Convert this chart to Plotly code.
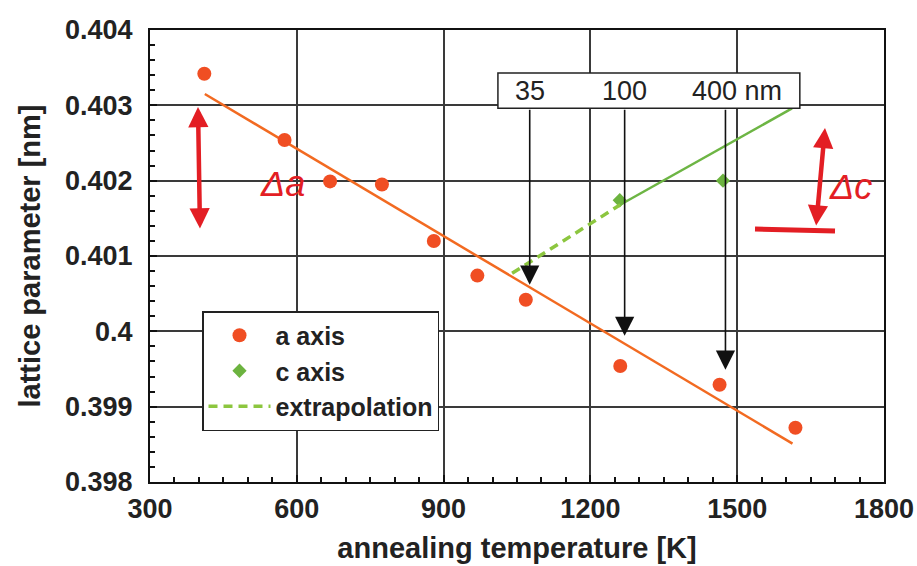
import plotly.graph_objects as go

# ---------------- data ----------------
a_temp = [411, 575, 668, 774, 880, 969, 1068, 1261, 1464, 1619]
a_lat = [0.40342, 0.40254, 0.40199, 0.40195, 0.40120, 0.40074, 0.40042, 0.39954, 0.39929, 0.39872]

a_fit_temp = [412, 1613]
a_fit_lat = [0.40315, 0.39851]

c_temp = [1260, 1471]
c_lat = [0.40174, 0.40200]

c_fit_temp = [1261, 1612]
c_fit_lat = [0.40168, 0.40296]

extrap_temp = [1040, 1261]
extrap_lat = [0.40077, 0.40168]

thickness_labels = ["35", "100", "400 nm"]
arrow_temp = [1076, 1270, 1476]
arrow_tip = [0.40062, 0.39994, 0.39949]
box_temp = [1011, 1628]
box_lat = [0.40296, 0.40343]

x_ticks = [300, 600, 900, 1200, 1500, 1800]
x_tick_labels = ["300", "600", "900", "1200", "1500", "1800"]
y_ticks = [0.398, 0.399, 0.400, 0.401, 0.402, 0.403, 0.404]
y_tick_labels = ["0.398", "0.399", "0.4", "0.401", "0.402", "0.403", "0.404"]

# ---------------- layout constants ----------------
W, H = 917, 566
L, R, T, B = 150, 33, 30, 84
FONT = "Liberation Sans, Arial, sans-serif"
TXT = "#222222"
GRID = "#3a3a3a"
RED = "#e31e24"


def px(x, y):
    """convert image pixel position to paper coords (for hand-drawn marks)"""
    pw = W - L - R
    ph = H - T - B
    return (x - L) / pw, 1 - (y - T) / ph


fig = go.Figure()

fig.add_trace(go.Scatter(
    x=a_fit_temp, y=a_fit_lat, mode="lines",
    line=dict(color="#f26a21", width=2.5), showlegend=False, hoverinfo="skip"))
fig.add_trace(go.Scatter(
    x=c_fit_temp, y=c_fit_lat, mode="lines",
    line=dict(color="#6db544", width=2.5), showlegend=False, hoverinfo="skip"))

fig.add_trace(go.Scatter(
    x=a_temp, y=a_lat, mode="markers", name="a axis",
    marker=dict(symbol="circle", size=14, color="#f04e23")))
fig.add_trace(go.Scatter(
    x=c_temp, y=c_lat, mode="markers", name="c axis",
    marker=dict(symbol="diamond", size=11, color="#6cb33f")))
fig.add_trace(go.Scatter(
    x=extrap_temp, y=extrap_lat, mode="lines", name="extrapolation",
    line=dict(color="#8cc63f", width=3.5, dash="9px,6px")))

# box with film thicknesses
fig.add_shape(type="rect", xref="x", yref="y",
              x0=box_temp[0], x1=box_temp[1], y0=box_lat[0], y1=box_lat[1],
              line=dict(color="#222", width=1.5), fillcolor="white", layer="above")

box_mid = (box_lat[0] + box_lat[1]) / 2
for i, (lab, t, tip) in enumerate(zip(thickness_labels, arrow_temp, arrow_tip)):
    fig.add_annotation(
        x=t, y=tip, ax=t, ay=box_lat[0], xref="x", yref="y", axref="x", ayref="y",
        text="", showarrow=True, arrowhead=2, arrowsize=2.4, arrowwidth=1.6,
        arrowcolor="#111")
    if i < 2:
        fig.add_annotation(x=t, y=box_mid, xref="x", yref="y", text=lab,
                           showarrow=False, xanchor="center", yanchor="middle",
                           font=dict(family=FONT, size=27, color=TXT))
    else:
        fig.add_annotation(x=t, y=box_mid, xref="x", yref="y", text=lab,
                           showarrow=False, xanchor="left", yanchor="middle", xshift=-35,
                           font=dict(family=FONT, size=27, color=TXT))

# ---------------- hand-drawn red marks ----------------
# delta a
x0, y0 = px(198, 107)
fig.add_annotation(x=x0, y=y0, xref="paper", yref="paper", ax=2, ay=123,
                   axref="pixel", ayref="pixel", text="", showarrow=True,
                   arrowhead=2, arrowside="end+start", arrowsize=0.9,
                   arrowwidth=4.5, arrowcolor=RED)
xt, yt = px(258, 183)
fig.add_annotation(x=xt, y=yt, xref="paper", yref="paper", text="<i>Δa</i>",
                   showarrow=False, font=dict(family=FONT, size=36, color=RED))
# delta c
x0, y0 = px(825, 128)
fig.add_annotation(x=x0, y=y0, xref="paper", yref="paper", ax=-9, ay=99,
                   axref="pixel", ayref="pixel", text="", showarrow=True,
                   arrowhead=2, arrowside="end+start", arrowsize=0.9,
                   arrowwidth=4.5, arrowcolor=RED)
hx0, hy0 = px(755, 229)
hx1, hy1 = px(835, 231)
fig.add_shape(type="line", xref="paper", yref="paper", x0=hx0, y0=hy0, x1=hx1, y1=hy1,
              line=dict(color=RED, width=5))
xt, yt = px(874, 186)
fig.add_annotation(x=xt, y=yt, xref="paper", yref="paper", text="<i>Δc</i>",
                   showarrow=False, font=dict(family=FONT, size=36, color=RED))

axis_common = dict(
    showline=True, linecolor="#111", linewidth=2, mirror=True,
    showgrid=True, gridcolor=GRID, gridwidth=1.5,
    ticks="inside", ticklen=7, tickcolor="#111", tickwidth=1.5,
    zeroline=False,
    tickfont=dict(family=FONT, size=27, color=TXT, weight="bold"),
)

fig.update_xaxes(
    range=[300, 1800], tickmode="array", tickvals=x_ticks, ticktext=x_tick_labels,
    minor=dict(tickmode="linear", tick0=300, dtick=50, ticks="inside", ticklen=5,
               tickcolor="#111", showgrid=False),
    title=dict(text="annealing temperature [K]", standoff=14,
               font=dict(family=FONT, size=29, color=TXT, weight="bold")),
    ticklabelstandoff=2,
    **axis_common)
fig.update_yaxes(
    range=[0.398, 0.404], tickmode="array", tickvals=y_ticks, ticktext=y_tick_labels,
    minor=dict(tickmode="linear", tick0=0.398, dtick=0.0002, ticks="inside", ticklen=5,
               tickcolor="#111", showgrid=False),
    title=dict(text="lattice parameter [nm]", standoff=16,
               font=dict(family=FONT, size=29, color=TXT, weight="bold")),
    ticklabelstandoff=10,
    **axis_common)

lx, ly = px(202, 311)
fig.update_layout(
    width=W, height=H,
    margin=dict(l=L, r=R, t=T, b=B, autoexpand=False),
    paper_bgcolor="white", plot_bgcolor="white",
    showlegend=True,
    legend=dict(x=lx, y=ly, xanchor="left", yanchor="top",
                bgcolor="white", bordercolor="#222", borderwidth=1.5,
                itemwidth=62,
                font=dict(family=FONT, size=25, color=TXT, weight="bold")),
)

fig.write_html("out.html")
